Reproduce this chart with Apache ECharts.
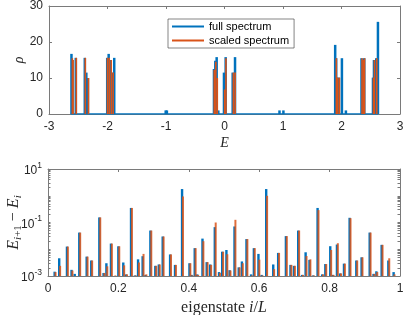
<!DOCTYPE html>
<html><head><meta charset="utf-8">
<script src="https://cdn.jsdelivr.net/npm/echarts@6.0.0/dist/echarts.min.js"></script>
<style>html,body{margin:0;padding:0;background:#fff}#c{width:407px;height:315px}</style>
</head><body><div id="c"></div>
<script>
// ---- Top panel: density of states rho(E) ----
const fullE = [-2.616, -2.600, -2.542, -2.388, -2.362, -2.335, -2.005, -1.980, -1.945, -1.912, -1.885,
  -1.005, -0.985, -0.180, -0.157, -0.134, -0.106, -0.009, 0.020, 0.140, 0.180, 0.940, 1.007,
  1.892, 1.909, 1.926, 1.955, 2.007, 2.075, 2.342, 2.366, 2.389, 2.538, 2.555, 2.594, 2.623];
const fullRho = [16.7, 15.0, 15.6, 15.6, 11.5, 10.0, 15.6, 16.7, 15.0, 11.5, 15.6,
  1.0, 1.0, 12.5, 14.8, 15.8, 1.0, 11.5, 15.8, 11.5, 15.8, 1.0, 1.0,
  19.2, 15.5, 10.1, 10.1, 15.5, 1.0, 15.5, 15.0, 15.5, 10.1, 15.0, 15.5, 25.6];
const scaledE = [-2.608, -2.596, -2.540, -2.386, -2.332, -2.007, -1.978, -1.943, -1.910,
  -0.182, -0.155, -0.130, -0.004, 0.018, 0.145, 0.175,
  1.905, 1.928, 1.957, 2.344, 2.366, 2.387, 2.540, 2.557, 2.596];
const scaledRho = [15.5, 15.0, 15.6, 15.6, 10.0, 15.6, 15.6, 15.0, 11.5,
  12.3, 14.5, 10.0, 6.8, 15.5, 11.5, 11.5,
  15.5, 10.1, 10.1, 15.5, 15.0, 15.5, 10.1, 15.0, 15.5];
const baseE = [-2.63, 2.63];
const baseRho = [0, 0];
const topXTicks = [-3, 3, 1];   // min, max, step
const topYTicks = [0, 30, 10];

// ---- Bottom panel: level spacings E_{i+1}-E_i ----
const stateX = [0.020, 0.033, 0.055, 0.068, 0.077, 0.090, 0.111, 0.124, 0.147, 0.159,
  0.167, 0.180, 0.190, 0.201, 0.215, 0.223, 0.237, 0.248, 0.257, 0.270,
  0.278, 0.292, 0.306, 0.316, 0.327, 0.348, 0.362, 0.382, 0.403, 0.409,
  0.418, 0.425, 0.440, 0.452, 0.462, 0.475, 0.487, 0.496, 0.508, 0.517,
  0.531, 0.543, 0.552, 0.565, 0.578, 0.586, 0.599, 0.608, 0.621, 0.641,
  0.655, 0.677, 0.690, 0.700, 0.712, 0.723, 0.733, 0.744, 0.754, 0.767,
  0.780, 0.789, 0.803, 0.810, 0.822, 0.831, 0.842, 0.858, 0.877, 0.892,
  0.915, 0.926, 0.934, 0.949, 0.968, 0.983];
const fullGap = [1.45e-3, 4.6e-3, 0.0126, 1.7e-3, 1.2e-3, 0.042, 5.3e-3, 3.8e-3, 0.155, 1.3e-3,
  3.0e-3, 0.0163, 1.0e-3, 0.0129, 3.2e-3, 1.15e-3, 0.35, 1.05e-3, 4.2e-3, 5.5e-3,
  1.1e-3, 0.05, 2.4e-3, 2.7e-3, 0.03, 6.4e-3, 2.6e-3, 1.78, 3.0e-3, 1.1e-3,
  0.011, 1.15e-3, 0.025, 3.3e-3, 2.7e-3, 0.067, 1.4e-3, 8.1e-3, 9.4e-3, 1.65e-3,
  0.071, 2.1e-3, 3.5e-3, 0.024, 1.15e-3, 0.011, 6.7e-3, 1.1e-3, 1.78, 2.7e-3,
  7.3e-3, 0.031, 2.6e-3, 2.4e-3, 0.05, 1.1e-3, 7.7e-3, 4.0e-3, 1.05e-3, 0.35,
  1.15e-3, 2.8e-3, 0.013, 1.1e-3, 0.015, 1.25e-3, 2.9e-3, 0.15, 3.8e-3, 5.0e-3,
  0.042, 1.2e-3, 1.5e-3, 0.0146, 3.8e-3, 1.4e-3];
const scaledGap = [1.4e-3, 2.4e-3, 0.0126, 1.6e-3, 1.0e-3, 0.042, 5.3e-3, 3.8e-3, 0.155, 1.3e-3,
  2.3e-3, 0.0163, 1.05e-3, 0.0129, 2.5e-3, 1.15e-3, 0.35, 1.05e-3, 3.2e-3, 6.7e-3,
  1.15e-3, 0.05, 2.4e-3, 2.7e-3, 0.03, 6.4e-3, 2.6e-3, 0.94, 3.0e-3, 1.05e-3,
  0.011, 1.1e-3, 0.02, 3.3e-3, 2.6e-3, 0.1, 1.3e-3, 8.1e-3, 6.5e-3, 1.6e-3,
  0.126, 2.1e-3, 3.0e-3, 0.024, 1.05e-3, 0.011, 4.1e-3, 1.05e-3, 1.0, 1.8e-3,
  7.3e-3, 0.031, 2.6e-3, 2.4e-3, 0.05, 1.1e-3, 5.6e-3, 4.2e-3, 1.05e-3, 0.29,
  1.15e-3, 2.8e-3, 0.0094, 1.1e-3, 0.0168, 1.25e-3, 2.9e-3, 0.145, 3.8e-3, 5.0e-3,
  0.042, 1.2e-3, 1.4e-3, 0.0146, 4.6e-3, 1.15e-3];
const botXTicks = [0, 1, 0.2];
const botYRange = [0.001, 10];
const botYLabels = [0.001, 0.1, 10];

const BLUE = '#0072BD', ORANGE = '#D95319';
const AX = '#262626', LINE = '#7a7a7a';
const SANS = 'Liberation Sans, Arial, sans-serif';
const SERIF = 'Liberation Serif, Times New Roman, serif';

function zip(a, b) { return a.map((v, i) => [v, b[i]]); }
function spikes(baseVal, width, offset, color, opacity) {
  return function (params, api) {
    const x = api.value(0), v = api.value(1);
    const p = api.coord([x, v]);
    const b = api.coord([x, baseVal]);
    return { type: 'rect',
      shape: { x: p[0] - width / 2 + offset, y: p[1], width: width, height: b[1] - p[1] },
      style: { fill: color, opacity: opacity == null ? 1 : opacity } };
  };
}
const minorLog = [];
for (let e = -3; e <= 0; e++) for (let k = 1; k <= 9; k++) minorLog.push(k * Math.pow(10, e));
minorLog.push(10);

const lineStyle = { color: LINE, width: 1 };
const labelStyle = { fontFamily: SANS, fontSize: 12, color: AX };
function mirrorX(grid, range) {
  return { gridIndex: grid, type: 'value', position: 'top', min: range[0], max: range[1], interval: range[2],
    axisLine: { show: true, onZero: false, lineStyle }, axisTick: { show: true, inside: true, length: 3, lineStyle },
    axisLabel: { show: false }, splitLine: { show: false } };
}

const option = {
  animation: false,
  backgroundColor: '#fff',
  grid: [
    { left: 49, right: 7, top: 6, height: 108, containLabel: false, outerBoundsMode: 'none' },
    { left: 48, right: 7, top: 169, height: 107, containLabel: false, outerBoundsMode: 'none' }
  ],
  legend: {
    orient: 'vertical', left: 168, top: 19, padding: [2, 5, 2, 4], itemGap: 3,
    itemWidth: 32, itemHeight: 2, icon: 'rect', selectedMode: false,
    data: ['full spectrum', 'scaled spectrum'],
    backgroundColor: '#fff', borderColor: '#333', borderWidth: 0.6, borderRadius: 0,
    textStyle: { fontFamily: SANS, fontSize: 11, color: '#000', lineHeight: 11 }
  },
  xAxis: [
    { gridIndex: 0, type: 'value', min: topXTicks[0], max: topXTicks[1], interval: topXTicks[2],
      axisLine: { show: true, onZero: false, lineStyle }, axisTick: { inside: true, length: 3, lineStyle },
      axisLabel: Object.assign({ margin: 7 }, labelStyle), splitLine: { show: false },
      name: 'E', nameLocation: 'middle', nameGap: 22, nameMoveOverlap: false,
      nameTextStyle: { fontFamily: SERIF, fontStyle: 'italic', fontSize: 14, color: AX } },
    mirrorX(0, topXTicks),
    { gridIndex: 1, type: 'value', min: botXTicks[0], max: botXTicks[1], interval: botXTicks[2],
      axisLine: { show: true, onZero: false, lineStyle }, axisTick: { inside: true, length: 3, lineStyle },
      axisLabel: Object.assign({ margin: 7 }, labelStyle), splitLine: { show: false },
      name: '{r|eigenstate }{i|i}{r|/}{i|L}', nameLocation: 'middle', nameGap: 24, nameMoveOverlap: false,
      nameTextStyle: { rich: {
        r: { fontFamily: SERIF, fontSize: 16, color: AX },
        i: { fontFamily: SERIF, fontStyle: 'italic', fontSize: 16, color: AX } } } },
    mirrorX(1, botXTicks)
  ],
  yAxis: [
    { gridIndex: 0, type: 'value', min: topYTicks[0], max: topYTicks[1], interval: topYTicks[2],
      axisLine: { show: true, onZero: false, lineStyle }, axisTick: { show: true, inside: true, length: 3, lineStyle },
      axisLabel: Object.assign({ margin: 6 }, labelStyle), splitLine: { show: false },
      name: 'ρ', nameLocation: 'middle', nameGap: 23, nameRotate: 90, nameMoveOverlap: false,
      nameTextStyle: { fontFamily: SERIF, fontStyle: 'italic', fontSize: 14, color: AX } },
    { gridIndex: 0, type: 'value', position: 'right', min: topYTicks[0], max: topYTicks[1], interval: topYTicks[2],
      axisLine: { show: true, onZero: false, lineStyle }, axisTick: { show: true, inside: true, length: 3, lineStyle },
      axisLabel: { show: false }, splitLine: { show: false } },
    { gridIndex: 1, type: 'log', logBase: 10, min: botYRange[0], max: botYRange[1],
      axisLine: { show: true, onZero: false, lineStyle },
      axisTick: { show: true, inside: true, length: 2.5, lineStyle, customValues: minorLog },
      axisLabel: { margin: 6, customValues: botYLabels,
        formatter: v => '{b|10}{s|' + Math.round(Math.log10(v)) + '}',
        rich: { b: { fontFamily: SANS, fontSize: 12, color: AX, lineHeight: 16, verticalAlign: 'bottom' },
                s: { fontFamily: SANS, fontSize: 8.5, color: AX, lineHeight: 16, verticalAlign: 'top' } } },
      splitLine: { show: false },
      name: '{e|E}{s|i}{sr|+1}{m| − }{e|E}{s|i}', nameLocation: 'middle', nameGap: 24, nameRotate: 90,
      nameMoveOverlap: false,
      nameTextStyle: { rich: {
        e: { fontFamily: SERIF, fontStyle: 'italic', fontSize: 16, color: AX, lineHeight: 20 },
        m: { fontFamily: SERIF, fontSize: 16, color: AX, lineHeight: 20 },
        s: { fontFamily: SERIF, fontStyle: 'italic', fontSize: 11, color: AX, lineHeight: 20, verticalAlign: 'bottom' },
        sr: { fontFamily: SERIF, fontSize: 11, color: AX, lineHeight: 20, verticalAlign: 'bottom' } } } },
    { gridIndex: 1, type: 'log', logBase: 10, position: 'right', min: botYRange[0], max: botYRange[1],
      axisLine: { show: true, onZero: false, lineStyle },
      axisTick: { show: true, inside: true, length: 2.5, lineStyle, customValues: minorLog },
      axisLabel: { show: false }, splitLine: { show: false } }
  ],
  series: [
    { name: 'baseline', type: 'line', xAxisIndex: 0, yAxisIndex: 0, data: zip(baseE, baseRho),
      symbol: 'none', silent: true, lineStyle: { color: BLUE, width: 1.5 }, z: 1 },
    { name: 'full spectrum', type: 'custom', xAxisIndex: 0, yAxisIndex: 0, data: zip(fullE, fullRho),
      encode: { x: 0, y: 1 }, itemStyle: { color: BLUE }, clip: true, z: 2,
      renderItem: spikes(0, 2.5, 0, BLUE) },
    { name: 'scaled spectrum', type: 'custom', xAxisIndex: 0, yAxisIndex: 0, data: zip(scaledE, scaledRho),
      encode: { x: 0, y: 1 }, itemStyle: { color: ORANGE }, clip: true, z: 3,
      renderItem: spikes(0, 1.6, 0.4, ORANGE) },
    { name: 'full spectrum', type: 'custom', xAxisIndex: 2, yAxisIndex: 2, data: zip(stateX, fullGap),
      encode: { x: 0, y: 1 }, itemStyle: { color: BLUE }, clip: true, z: 2,
      renderItem: spikes(botYRange[0], 2.4, -0.4, BLUE) },
    { name: 'scaled spectrum', type: 'custom', xAxisIndex: 2, yAxisIndex: 2, data: zip(stateX, scaledGap),
      encode: { x: 0, y: 1 }, itemStyle: { color: ORANGE }, clip: true, z: 3,
      renderItem: spikes(botYRange[0], 2.0, 0.5, ORANGE, 0.85) }
  ]
};
const chart = echarts.init(document.getElementById('c'), null, { renderer: 'canvas' });
chart.setOption(option);
</script>
</body></html>
